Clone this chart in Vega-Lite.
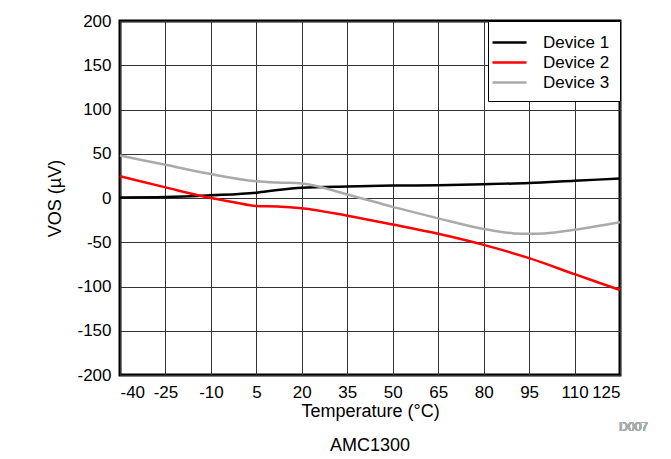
{
  "$schema": "https://vega.github.io/schema/vega-lite/v6.json",
  "width": 500,
  "height": 354,
  "autosize": "none",
  "padding": {"left": 120, "top": 21, "right": 51, "bottom": 84},
  "background": "white",
  "config": {
    "font": "Liberation Sans",
    "view": {"stroke": "black", "strokeWidth": 3},
    "axis": {
      "labelFont": "Liberation Sans",
      "titleFont": "Liberation Sans",
      "labelFontSize": 17,
      "titleFontSize": 18,
      "labelColor": "black",
      "titleColor": "black",
      "titleFontWeight": "normal",
      "domain": false,
      "ticks": false,
      "gridColor": "#333",
      "gridWidth": 1,
      "gridOpacity": 1
    }
  },
  "title": {
    "text": "AMC1300",
    "orient": "bottom",
    "anchor": "middle",
    "fontSize": 18,
    "fontWeight": "normal",
    "font": "Liberation Sans",
    "color": "black",
    "offset": 4
  },
  "data": {
    "values": [
      {"t": -40, "v": 0.5, "d": "Device 1"},
      {"t": -25, "v": 1, "d": "Device 1"},
      {"t": -10, "v": 3, "d": "Device 1"},
      {"t": 5, "v": 6, "d": "Device 1"},
      {"t": 12, "v": 9, "d": "Device 1"},
      {"t": 20, "v": 11.5, "d": "Device 1"},
      {"t": 35, "v": 13, "d": "Device 1"},
      {"t": 50, "v": 14, "d": "Device 1"},
      {"t": 65, "v": 14.5, "d": "Device 1"},
      {"t": 80, "v": 15.5, "d": "Device 1"},
      {"t": 95, "v": 17, "d": "Device 1"},
      {"t": 110, "v": 19.5, "d": "Device 1"},
      {"t": 125, "v": 22, "d": "Device 1"},
      {"t": -40, "v": 24.5, "d": "Device 2"},
      {"t": -25, "v": 12, "d": "Device 2"},
      {"t": -10, "v": 0, "d": "Device 2"},
      {"t": -2, "v": -5, "d": "Device 2"},
      {"t": 5, "v": -9, "d": "Device 2"},
      {"t": 12, "v": -9.5, "d": "Device 2"},
      {"t": 20, "v": -11.5, "d": "Device 2"},
      {"t": 35, "v": -20, "d": "Device 2"},
      {"t": 50, "v": -30, "d": "Device 2"},
      {"t": 65, "v": -40.5, "d": "Device 2"},
      {"t": 80, "v": -53, "d": "Device 2"},
      {"t": 95, "v": -68, "d": "Device 2"},
      {"t": 110, "v": -86, "d": "Device 2"},
      {"t": 125, "v": -104, "d": "Device 2"},
      {"t": -40, "v": 48, "d": "Device 3"},
      {"t": -25, "v": 37.5, "d": "Device 3"},
      {"t": -10, "v": 27, "d": "Device 3"},
      {"t": 5, "v": 19, "d": "Device 3"},
      {"t": 12, "v": 17.5, "d": "Device 3"},
      {"t": 20, "v": 16.5, "d": "Device 3"},
      {"t": 35, "v": 4, "d": "Device 3"},
      {"t": 50, "v": -10, "d": "Device 3"},
      {"t": 65, "v": -23, "d": "Device 3"},
      {"t": 80, "v": -35, "d": "Device 3"},
      {"t": 90, "v": -40, "d": "Device 3"},
      {"t": 95, "v": -40.5, "d": "Device 3"},
      {"t": 100, "v": -40, "d": "Device 3"},
      {"t": 110, "v": -36, "d": "Device 3"},
      {"t": 125, "v": -27.5, "d": "Device 3"}
    ]
  },
  "layer": [
    {
      "mark": {"type": "line", "strokeWidth": 2.5, "interpolate": "monotone"},
      "encoding": {
        "x": {
          "field": "t",
          "type": "quantitative",
          "scale": {"domain": [-40, 125], "nice": false, "zero": false},
          "axis": {"values": [-40, -25, -10, 5, 20, 35, 50, 65, 80, 95, 110, 125], "labelExpr": "'' + datum.value", "title": "Temperature (°C)", "labelPadding": 9, "titlePadding": 2}
        },
        "y": {
          "field": "v",
          "type": "quantitative",
          "scale": {"domain": [-200, 200], "nice": false},
          "axis": {"values": [-200, -150, -100, -50, 0, 50, 100, 150, 200], "labelExpr": "'' + datum.value", "title": "VOS (µV)", "labelPadding": 9, "titlePadding": 12}
        },
        "color": {
          "field": "d",
          "type": "nominal",
          "scale": {"domain": ["Device 1", "Device 2", "Device 3"], "range": ["#000000", "#ff0000", "#aaaaaa"]},
          "legend": {
            "title": null,
            "orient": "top-right",
            "offset": 0,
            "symbolType": "M-1.7,0H1.7",
            "symbolSize": 400,
            "symbolStrokeWidth": 2.5,
            "labelFontSize": 17,
            "labelFont": "Liberation Sans",
            "labelColor": "black",
            "strokeColor": "black",
            "fillColor": "white",
            "padding": 10,
            "rowPadding": 0,
            "labelOffset": 22
          }
        }
      }
    },
    {
      "mark": {"type": "text", "text": "D007", "align": "right", "baseline": "middle", "dy": 52, "dx": 28, "fontSize": 12, "font": "Liberation Sans", "fontWeight": "normal", "color": "#aaaaaa"},
      "encoding": {
        "x": {"datum": 125, "type": "quantitative"},
        "y": {"datum": -200, "type": "quantitative"}
      }
    }
  ]
}
